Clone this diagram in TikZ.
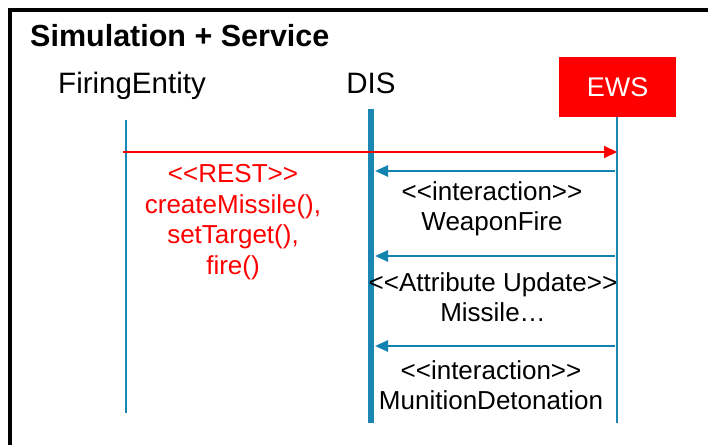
\documentclass[tikz,border=0pt]{standalone}
\usepackage{fontspec}
\setmainfont{Liberation Sans}
\usetikzlibrary{arrows.meta}
\definecolor{lifeblue}{HTML}{1A86B4}
\definecolor{msgblue}{HTML}{1282B0}
\definecolor{restred}{HTML}{FF0000}
% double angle brackets without the TeX guillemet ligature
\newcommand\openang{<\kern0pt<}
\newcommand\closeang{>\kern0pt>}
\begin{document}
\begin{tikzpicture}[x=1pt,y=-1pt,
  head/.style={font=\fontsize{29.5}{35}\selectfont, inner sep=0pt},
  lbl/.style={font=\fontsize{26}{30.5}\selectfont, align=center, inner sep=0pt},
  lifeline/.style={draw=lifeblue, line width=2pt},
  mainline/.style={draw=lifeblue, line width=5.5pt},
  redmsg/.style={draw=restred, line width=2pt, -{Triangle[length=13pt,width=12pt]}},
  bluemsg/.style={draw=msgblue, line width=2.5pt, -{Triangle[length=13pt,width=11pt]}}]
\useasboundingbox (0,0) rectangle (708,444);

% frame
\draw[line width=4pt] (10,446) -- (10,10) -- (710,10);
\node[anchor=base west, font=\bfseries\fontsize{30.5}{36}\selectfont, inner sep=0pt] (title) at (30,46) {Simulation + Service};

% participants
\node[head, anchor=base] (fe) at (132,93) {FiringEntity};
\node[head, anchor=base] (dis) at (371,93) {DIS};
\node[fill=restred, minimum width=117pt, minimum height=60pt, inner sep=0pt,
      text=white, font=\fontsize{27}{32}\selectfont] (ews) at (617.5,87) {EWS};

% lifelines
\coordinate (feTop) at (126,120);
\coordinate (feBot) at (126,413);
\coordinate (disTop) at (371,109);
\coordinate (disBot) at (371,423);
\coordinate (ewsBot) at (617,423);
\draw[lifeline] (feTop) -- (feBot);
\draw[mainline] (disTop) -- (disBot);
\draw[lifeline] (ews.south -| ewsBot) -- (ewsBot);

% messages
\coordinate (rs) at (123,152);
\coordinate (re) at (617,152);
\draw[redmsg] (rs) -- (re);

\coordinate (m1s) at (615,171);
\coordinate (m1e) at (375,171);
\coordinate (m2s) at (615,256);
\coordinate (m2e) at (375,256);
\coordinate (m3s) at (615,346);
\coordinate (m3e) at (375,346);
\draw[bluemsg] (m1s) -- (m1e);
\draw[bluemsg] (m2s) -- (m2e);
\draw[bluemsg] (m3s) -- (m3e);

% labels
\node[lbl, text=restred] (rest) at (233,222)
  {\openang REST\closeang\\createMissile(),\\setTarget(),\\fire()};
\node[lbl] (l1) at (492,209) {\openang interaction\closeang\\WeaponFire};
\node[lbl] (l2) at (493,297) {\openang Attribute Update\closeang\\Missile…};
\node[lbl] (l3) at (491,385) {\openang interaction\closeang\\MunitionDetonation};
\end{tikzpicture}
\end{document}
